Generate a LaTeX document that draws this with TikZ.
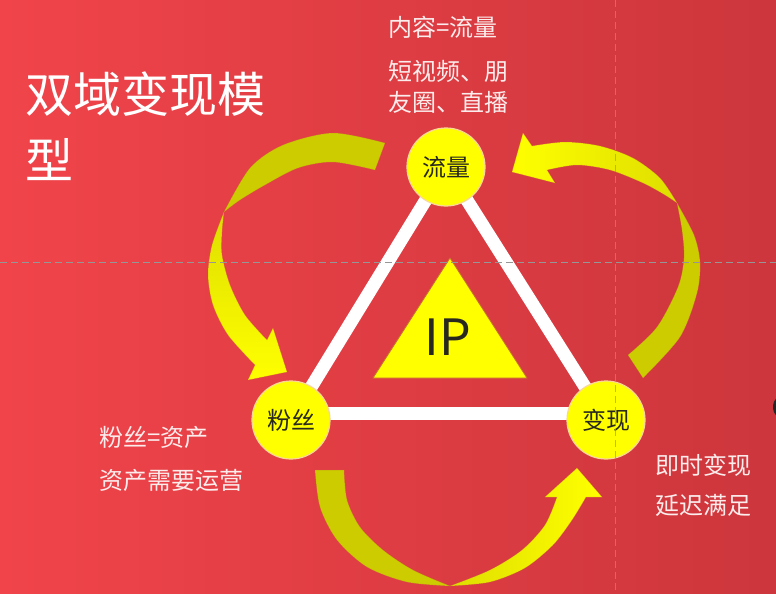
\documentclass[tikz,border=0pt]{standalone}
\usepackage{fontspec}
\setmainfont{Noto Sans CJK SC}
\definecolor{bgL}{RGB}{240,68,74}
\definecolor{bgR}{RGB}{204,54,60}
\definecolor{olivey}{RGB}{204,204,0}
\definecolor{yel}{RGB}{255,255,0}
\definecolor{yeldark}{RGB}{222,222,0}
\definecolor{txtw}{RGB}{252,236,236}
\definecolor{ink}{RGB}{40,40,30}
\definecolor{guide}{RGB}{150,150,150}
\definecolor{rim}{RGB}{250,215,150}
\definecolor{edgec}{RGB}{200,110,50}
\pgfdeclarelayer{back}
\pgfdeclarelayer{links}
\pgfsetlayers{back,links,main}
\begin{document}
\begin{tikzpicture}[x=1pt,y=-1pt,
  circ/.style={circle,fill=yel,draw=rim,line width=1.2pt,minimum size=78pt,inner sep=0pt,
    font=\fontsize{24}{28}\selectfont,text=ink},
  note/.style={anchor=west,inner sep=0pt,text=txtw,font=\fontsize{24}{28}\selectfont},
  titletext/.style={anchor=west,inner sep=0pt,text=white,font=\fontsize{48}{56}\selectfont},
  link/.style={white,line width=13pt},
  guideline/.style={guide,line width=0.8pt,dash pattern=on 7pt off 4pt},
  backband/.style={fill=olivey,draw=edgec,draw opacity=0.35,line width=0.5pt},
  frontband/.style={draw=edgec,draw opacity=0.35,line width=0.5pt},
]
\useasboundingbox (0,0) rectangle (776,594);
\clip (0,0) rectangle (776,594);

\begin{pgfonlayer}{back}
\shade[left color=bgL,right color=bgR] (0,0) rectangle (776,594);
\fill[black!85] (787,407) circle[radius=14];

% arrow 1: top-left, towards the fans circle
\filldraw[backband] (375,170) -- (385,143)
  -- plot[smooth] coordinates {(385,143) (333,133) (283,145) (250,168) (224,212)}
  -- plot[smooth] coordinates {(224,212) (240,200) (265,185) (298,168) (333,162) (375,170)}
  -- cycle;
\shade[top color=yeldark,bottom color=yel,frontband] (224,212)
  -- plot[smooth] coordinates {(224,212) (212,245) (208,275) (213,305) (228,335) (255,365)}
  -- (248,380) -- (287,372) -- (273,328) -- (267,340)
  -- plot[smooth] coordinates {(267,340) (245,315) (230,285) (222,255) (222,232) (224,212)}
  -- cycle;

% arrow 2: right, towards the traffic circle
\filldraw[backband] (628,355) -- (643,378)
  -- plot[smooth] coordinates {(643,378) (680,337) (697,293) (700,262) (694,235) (677,203)}
  -- plot[smooth] coordinates {(677,203) (682,230) (684,258) (678,287) (657,327) (628,355)}
  -- cycle;
\shade[left color=yel,right color=yeldark,frontband] (677,203)
  -- plot[smooth] coordinates {(677,203) (660,178) (633,158) (600,146) (565,142) (532,146)}
  -- (523,133) -- (512,172) -- (555,183) -- (547,170)
  -- plot[smooth] coordinates {(547,170) (577,165) (610,170) (643,183) (665,195) (677,203)}
  -- cycle;

% arrow 3: bottom, towards the monetisation circle
\filldraw[backband] (344,470) -- (315,470)
  -- plot[smooth] coordinates {(315,470) (320,507) (337,540) (367,567) (407,582) (450,586)}
  -- plot[smooth] coordinates {(450,586) (413,570) (383,550) (360,527) (347,500) (344,470)}
  -- cycle;
\shade[left color=yeldark,right color=yel,frontband] (450,586)
  -- plot[smooth] coordinates {(450,586) (490,582) (525,568) (553,545) (572,520) (586,497)}
  -- (602,497) -- (577,468) -- (545,497) -- (557,497)
  -- plot[smooth] coordinates {(557,497) (545,525) (522,550) (490,570) (450,586)}
  -- cycle;
\end{pgfonlayer}

% title
\node[titletext] (t1) at (25,94) {双域变现模};
\node[titletext] (t2) at (25,160) {型};

% notes
\node[note] (n1) at (388,27) {内容=流量};
\node[note] (n2) at (388,71) {短视频、朋};
\node[note] (n3) at (388,102) {友圈、直播};
\node[note] (n4) at (99,437) {粉丝=资产};
\node[note] (n5) at (99,480) {资产需要运营};
\node[note] (n6) at (655,465) {即时变现};
\node[note] (n7) at (655,505) {延迟满足};

% circles
\node[circ] (liu) at (446,167) {流量};
\node[circ] (fen) at (291,420) {粉丝};
\node[circ] (bian) at (606,420) {变现};

\begin{pgfonlayer}{links}
\draw[link] (liu.center) -- (fen.center);
\draw[link] (liu.center) -- (bian.center);
\draw[link] ([yshift=7pt]fen.center) -- ([yshift=7pt]bian.center);
\end{pgfonlayer}

% IP triangle
\coordinate (ipa) at (450,258);
\coordinate (ipb) at (373,378);
\coordinate (ipc) at (527,378);
\filldraw[fill=yel,draw=edgec,line width=0.8pt] (ipa) -- (ipb) -- (ipc) -- cycle;
\node[inner sep=0pt,text=ink,font=\fontsize{50}{56}\selectfont] (ip) at (448,337) {IP};

% guide lines
\draw[guideline] (0,262) -- (776,262);
\draw[guideline,draw opacity=0.7] (615,0) -- (615,594);
\end{tikzpicture}
\end{document}
